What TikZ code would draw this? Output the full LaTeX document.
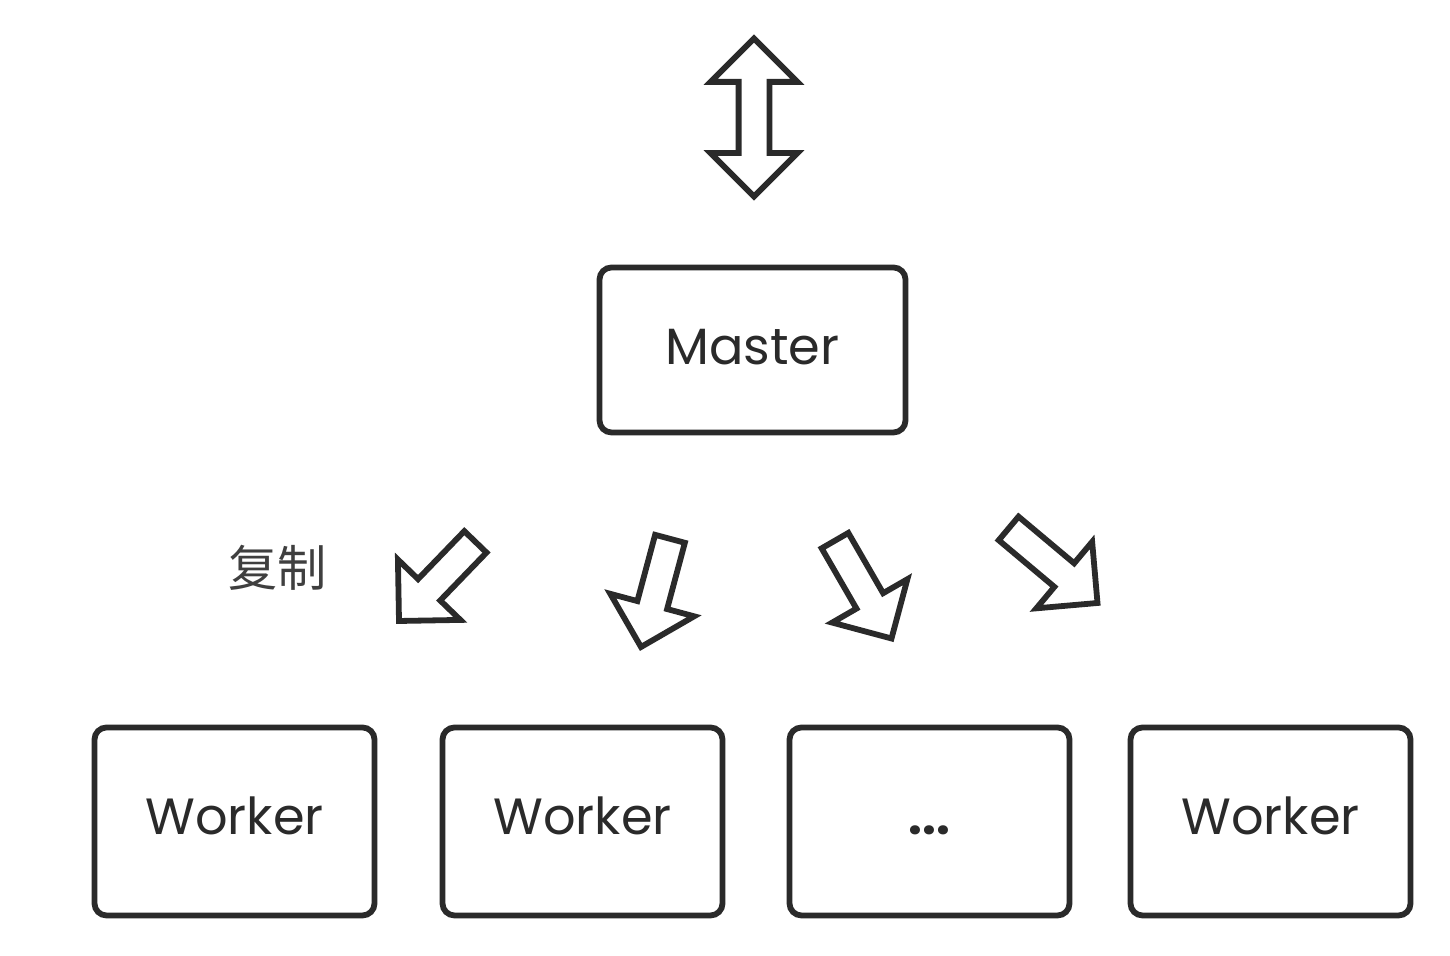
\documentclass[tikz,border=0pt]{standalone}
\usepackage{fontspec}
\setmainfont{Poppins}
\newfontfamily\cjk{Noto Sans CJK SC}
\usepackage{tikz}
\usetikzlibrary{shapes.arrows}

\definecolor{inkgray}{HTML}{2A2A2A}

\begin{document}
\begin{tikzpicture}[
    box/.style={draw=inkgray, line width=3.3pt, rounded corners=0.24cm, text=inkgray,
        font=\fontsize{29}{34}\selectfont, inner sep=0pt},
    master node/.style={box, minimum width=6.12cm, minimum height=3.3cm,
        text height=0.84cm, text depth=0.26cm},
    worker node/.style={box, minimum width=5.6cm, minimum height=3.76cm,
        text height=0.8cm, text depth=0.26cm},
    copy arrow/.style={single arrow, draw=inkgray, line width=3.3pt, inner xsep=0pt,
        inner ysep=0.25cm, outer sep=0pt, single arrow head extend=0.56cm,
        minimum width=1pt, minimum height=#1, anchor=tip},
    io arrow/.style={double arrow, draw=inkgray, line width=3.3pt, inner xsep=0pt,
        inner ysep=0.25cm, outer sep=0pt, double arrow head extend=0.56cm,
        minimum width=1pt, minimum height=3.16cm, rotate=90},
    note label/.style={font=\cjk\fontsize{28}{32}\selectfont, text=inkgray!90}
]

\path[use as bounding box, fill=white] (0,0) rectangle (29,19.12);

% Input / output
\node[io arrow] (IO) at (15.08,16.77) {};

% Master
\node[master node] (M) at (15.05,12.12) {Master};

% Copy arrows
\node[note label] (CP) at (5.55,7.77) {复制};
\node[copy arrow=2.2cm, rotate=226] (A1) at (7.98,6.70) {};
\node[copy arrow=2.24cm, rotate=255] (A2) at (12.82,6.18) {};
\node[copy arrow=2.26cm, rotate=300] (A3) at (17.83,6.35) {};
\node[copy arrow=2.32cm, rotate=320] (A4) at (21.95,7.06) {};

% Workers
\node[worker node] (W1) at (4.69,2.69) {Worker};
\node[worker node] (W2) at (11.65,2.69) {Worker};
\node[worker node] (W3) at (18.59,2.69) {\fontsize{28}{32}\selectfont\bfseries ...};
\node[worker node] (W4) at (25.41,2.69) {Worker};

\end{tikzpicture}
\end{document}
